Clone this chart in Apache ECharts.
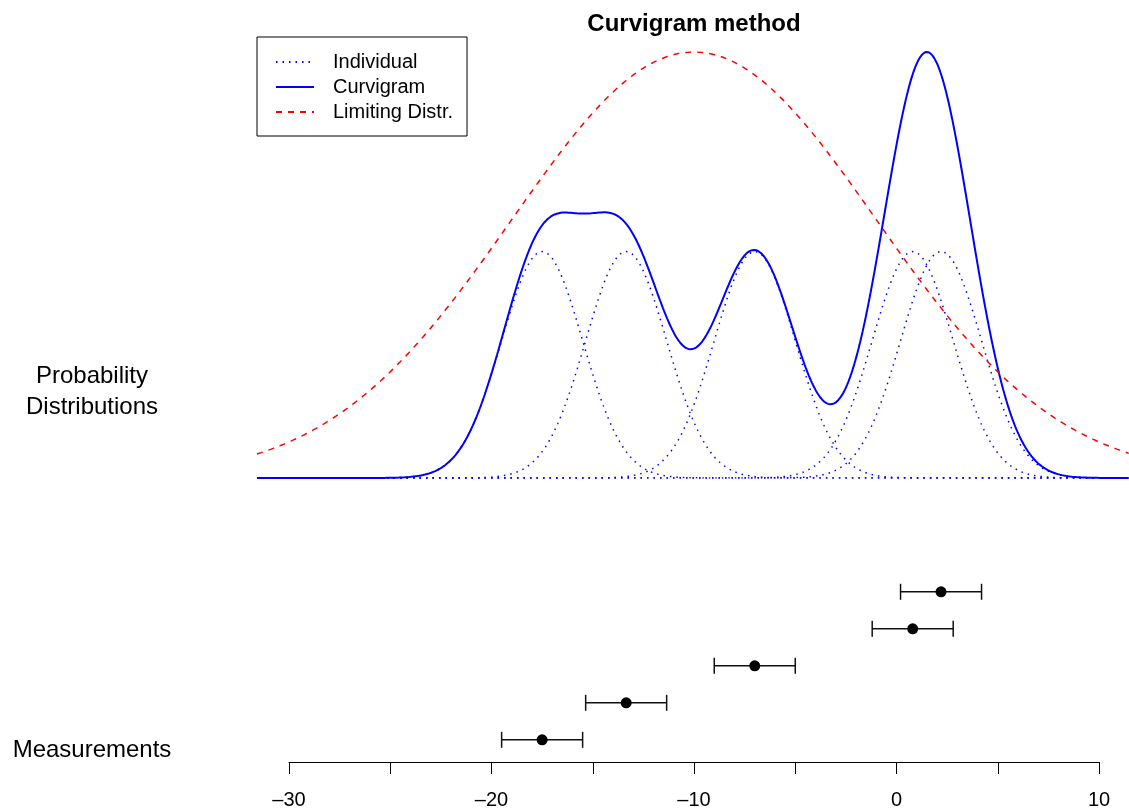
<!DOCTYPE html>
<html>
<head>
<meta charset="utf-8">
<script src="https://cdn.jsdelivr.net/npm/echarts@6/dist/echarts.min.js"></script>
<style>
  html, body { margin: 0; padding: 0; background: #fff; }
  #chart { width: 1129px; height: 810px; }
</style>
</head>
<body>
<div id="chart"></div>
<script>
// measured values (lowest row first) and their common uncertainty
var measurements = [-17.5, -13.35, -7.0, 0.8, 2.2];
var rows = [1, 2, 3, 4, 5];
var sigma = 2;
// limiting distribution
var limitMean = -10;
var limitSd = 9;
// x range of the plot region and axis ticks
var xRange = [-31.58, 11.48];
var axisRange = [-30, 10];
var tickStep = 5;

var font = '"Liberation Sans", Arial, Helvetica, sans-serif';

function dnorm(x, m, s) {
    return Math.exp(-(x - m) * (x - m) / (2 * s * s)) / (s * Math.sqrt(2 * Math.PI));
}

var xs = [];
for (var x = xRange[0]; x <= xRange[1] + 1e-9; x += 0.05) xs.push(+x.toFixed(3));

var individual = measurements.map(function (m) {
    return xs.map(function (x) { return [x, dnorm(x, m, sigma)]; });
});
var curvigram = xs.map(function (x, i) {
    var s = 0;
    individual.forEach(function (d) { s += d[i][1]; });
    return [x, s];
});
var curvMax = Math.max.apply(null, curvigram.map(function (p) { return p[1]; }));
var limitScale = curvMax / dnorm(limitMean, limitMean, limitSd);
var limiting = xs.map(function (x) { return [x, dnorm(x, limitMean, limitSd) * limitScale]; });

var points = measurements.map(function (m, i) { return [m, rows[i]]; });

var series = [];
individual.forEach(function (d) {
    series.push({
        name: 'Individual', type: 'line', data: d, xAxisIndex: 0, yAxisIndex: 0,
        symbol: 'none', z: 2,
        lineStyle: { color: '#0000ff', width: 1.5, type: [1.5, 5] },
        itemStyle: { color: '#0000ff' }
    });
});
series.push({
    name: 'Curvigram', type: 'line', data: curvigram, xAxisIndex: 0, yAxisIndex: 0,
    symbol: 'none', z: 3,
    lineStyle: { color: '#0000ff', width: 2 },
    itemStyle: { color: '#0000ff' }
});
series.push({
    name: 'Limiting Distr.', type: 'line', data: limiting, xAxisIndex: 0, yAxisIndex: 0,
    symbol: 'none', z: 4,
    lineStyle: { color: '#ff0000', width: 1.5, type: [6, 6] },
    itemStyle: { color: '#ff0000' }
});
series.push({
    type: 'custom', xAxisIndex: 1, yAxisIndex: 1, data: points, z: 3,
    renderItem: function (params, api) {
        var m = api.value(0), r = api.value(1);
        var a = api.coord([m - sigma, r]);
        var b = api.coord([m + sigma, r]);
        var st = { stroke: '#111', lineWidth: 1.5 };
        return {
            type: 'group',
            children: [
                { type: 'line', shape: { x1: a[0], y1: a[1], x2: b[0], y2: b[1] }, style: st },
                { type: 'line', shape: { x1: a[0], y1: a[1] - 8, x2: a[0], y2: a[1] + 8 }, style: st },
                { type: 'line', shape: { x1: b[0], y1: b[1] - 8, x2: b[0], y2: b[1] + 8 }, style: st }
            ]
        };
    }
});
series.push({
    type: 'scatter', xAxisIndex: 1, yAxisIndex: 1, data: points, z: 4,
    symbol: 'circle', symbolSize: 11,
    itemStyle: { color: '#000', opacity: 1 }
});

var option = {
    animation: false,
    backgroundColor: '#fff',
    textStyle: { fontFamily: font },
    legend: {
        data: ['Individual', 'Curvigram', 'Limiting Distr.'],
        orient: 'vertical',
        left: 257, top: 37,
        padding: [15, 14, 14, 18],
        borderColor: '#000', borderWidth: 1, borderRadius: 0,
        itemWidth: 38, itemHeight: 14, itemGap: 5,
        selectedMode: false,
        itemStyle: { opacity: 0 },
        textStyle: { fontFamily: font, fontSize: 20, color: '#000', padding: [0, 0, 0, 14] }
    },
    graphic: [
        { type: 'text', x: 694, y: 24, style: { text: 'Curvigram method', font: 'bold 24px ' + font, fill: '#000', textAlign: 'center', textVerticalAlign: 'middle' } },
        { type: 'text', x: 92, y: 392, style: { text: 'Probability\nDistributions', font: '24px ' + font, lineHeight: 31, fill: '#000', textAlign: 'center', textVerticalAlign: 'middle' } },
        { type: 'text', x: 92, y: 750, style: { text: 'Measurements', font: '24px ' + font, fill: '#000', textAlign: 'center', textVerticalAlign: 'middle' } }
    ],
    grid: [
        { left: 257, right: 0, top: 52, bottom: 332 },
        { left: 289, right: 30, top: 554.8, bottom: 48 }
    ],
    xAxis: [
        { gridIndex: 0, type: 'value', min: xRange[0], max: xRange[1], show: false },
        {
            gridIndex: 1, type: 'value', min: axisRange[0], max: axisRange[1], interval: tickStep,
            axisLine: { lineStyle: { color: '#000', width: 1 } },
            axisTick: { length: 12, lineStyle: { color: '#000', width: 1 } },
            splitLine: { show: false },
            axisLabel: {
                margin: 28, fontSize: 20, color: '#000', fontFamily: font,
                formatter: function (v) {
                    if (v % 10 !== 0) return '';
                    return v < 0 ? '\u2013' + Math.abs(v) : String(v);
                }
            }
        }
    ],
    yAxis: [
        { gridIndex: 0, type: 'value', min: 0, max: curvMax, show: false },
        { gridIndex: 1, type: 'value', min: 0.4, max: 6, show: false }
    ],
    series: series
};

var myChart = echarts.init(document.getElementById('chart'));
myChart.setOption(option);
</script>
</body>
</html>
